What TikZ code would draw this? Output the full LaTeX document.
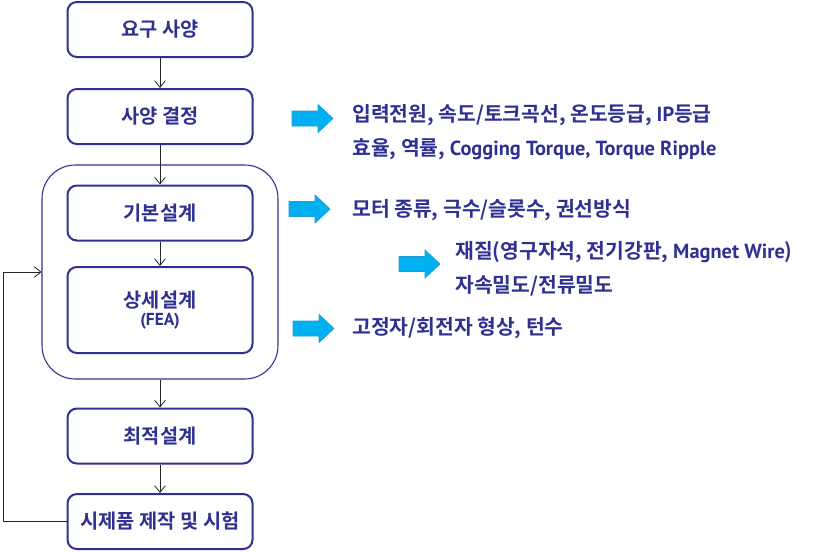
\documentclass[tikz,border=0pt]{standalone}
\usepackage{fontspec}
\setmainfont{Noto Sans CJK KR}[UprightFont=* Bold]
\newfontfamily\latinpart{PT Sans}[UprightFont=* Bold]
\newcommand{\lat}[1]{{\latinpart #1}}
\usetikzlibrary{arrows.meta,positioning}
\definecolor{DeepNavy}{HTML}{2E3192}
\definecolor{SkyArrow}{HTML}{00B0F0}
\definecolor{SkyEdge}{HTML}{1E9AD6}

\begin{document}
\begin{tikzpicture}[x=0.75pt,y=-0.75pt,>={Straight Barb[length=5pt,width=8pt]},
  stage/.style={draw=DeepNavy,line width=1.5pt,rounded corners=7pt,fill=white,
    minimum width=138.75pt,minimum height=41.25pt,text=DeepNavy,
    font=\fontsize{14.8}{17}\selectfont,align=center},
  flow/.style={->,black!85,line width=.6pt},
  note/.style={anchor=west,text=DeepNavy,font=\fontsize{15.3}{18}\selectfont,inner sep=0pt},
  bluearrow/.pic={\filldraw[fill=SkyArrow,draw=SkyEdge,line width=.5pt]
    (0,-7.5) -- (26,-7.5) -- (26,-14) -- (41,0) -- (26,14) -- (26,7.5) -- (0,7.5) -- cycle;}]
  \useasboundingbox (0,0) rectangle (827,551);

  % 설계 단계를 묶는 큰 틀을 먼저 그린다.
  \node[draw=DeepNavy,line width=.8pt,rounded corners=25pt,
        minimum width=177pt,minimum height=160.5pt] (core) at (160,272) {};

  \node[stage] (req) at (160,29.5) {요구 사양};
  \node[stage] (spec) at (160,116.5) {사양 결정};
  \node[stage] (basic) at (160,213) {기본설계};
  \node[stage,minimum height=64.5pt] (detail) at (160,310)
        {상세설계\\[-3pt]{\fontsize{13}{15}\selectfont\lat{(FEA)}}};
  \node[stage] (opt) at (160,436) {최적설계};
  \node[stage] (proto) at (160,521.5) {시제품 제작 및 시험};

  \draw[flow] (req) -- (spec);
  \draw[flow] (spec) -- (basic);
  \draw[flow] (basic) -- (detail);
  \draw[flow] (core) -- (opt);
  \draw[flow] (opt) -- (proto);
  \coordinate (loop) at (3,521.5);
  \draw[flow] (proto.west) -- (loop) |- (core.west);

  % 오른쪽 설명
  \pic at (292,118.5) {bluearrow};
  \node[note] (specA) at (352,115) {입력전원, 속도/토크곡선, 온도등급, \lat{IP}등급};
  \node[note] (specB) at (352,149) {효율, 역률, \lat{Cogging Torque, Torque Ripple}};
  \pic at (289,209) {bluearrow};
  \node[note] (basicA) at (352,210) {모터 종류, 극수/슬롯수, 권선방식};
  \pic at (399,264) {bluearrow};
  \node[note] (matA) at (455,252) {재질(영구자석, 전기강판, \lat{Magnet Wire})};
  \node[note] (matB) at (455,286) {자속밀도/전류밀도};
  \pic at (293,328.5) {bluearrow};
  \node[note] (shapeA) at (352,328) {고정자/회전자 형상, 턴수};
\end{tikzpicture}
\end{document}
